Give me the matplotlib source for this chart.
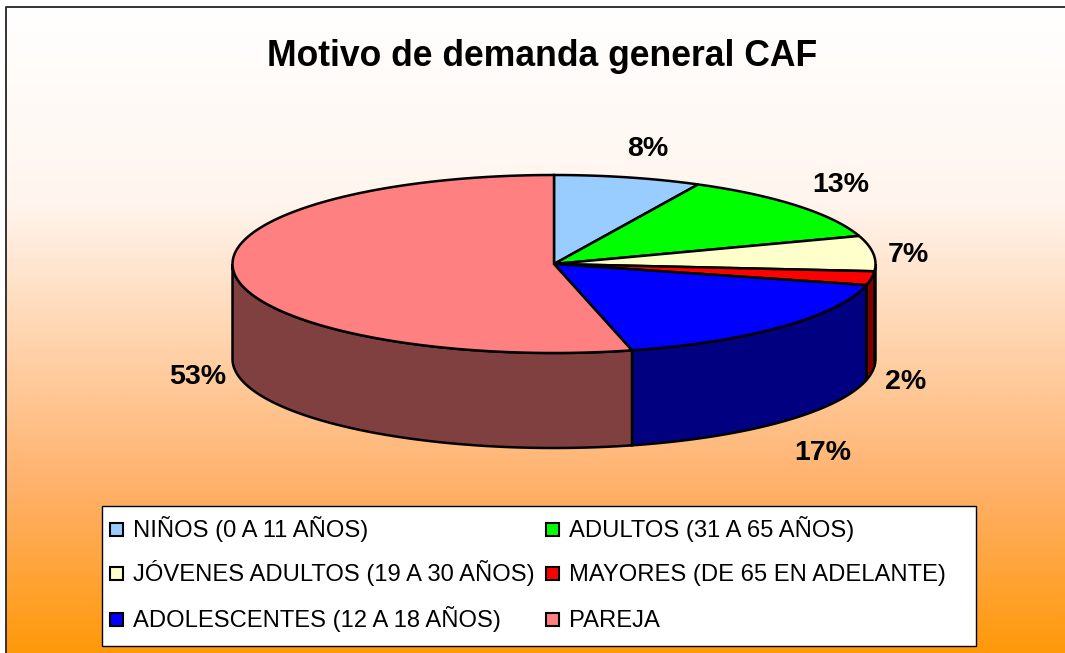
import numpy as np
import matplotlib
matplotlib.use("Agg")
import matplotlib.pyplot as plt
from matplotlib.colors import LinearSegmentedColormap
from matplotlib.patches import Polygon, Rectangle

# data
categories = ["NIÑOS (0 A 11 AÑOS)", "ADULTOS (31 A 65 AÑOS)", "JÓVENES ADULTOS (19 A 30 AÑOS)",
              "MAYORES (DE 65 EN ADELANTE)", "ADOLESCENTES (12 A 18 AÑOS)", "PAREJA"]
values = [7.4, 12.5, 6.4, 2.5, 17.3, 53.9]
value_labels = ["8%", "13%", "7%", "2%", "17%", "53%"]
top_colors = ["#99CCFF", "#00FF00", "#FFFFCC", "#FF0000", "#0000FF", "#FF8080"]
side_colors = ["#4D6680", "#008000", "#808066", "#800000", "#000080", "#804040"]
label_pos = [(648, 147), (841, 183), (908, 253), (906, 380), (823, 451), (198, 375)]

# pie geometry in pixels
cx, cy, rx, ry, depth = 554, 264, 321.5, 89, 95

plt.rcParams['font.family'] = ['Liberation Sans', 'DejaVu Sans']

fig = plt.figure(figsize=(10.65, 6.53), dpi=100)
ax = fig.add_axes([0, 0, 1, 1])
ax.set_xlim(0, 1065)
ax.set_ylim(653, 0)
ax.axis('off')

# background gradient
cmap = LinearSegmentedColormap.from_list("bg", [(0, "#FFFFFF"), (0.3, "#FFF5EE"), (0.75, "#FFB069"), (1, "#FF990A")])
grad = np.linspace(0, 1, 400).reshape(-1, 1)
ax.imshow(grad, cmap=cmap, extent=[6, 1066, 653, 7], aspect='auto', zorder=0)
ax.set_xlim(0, 1065)
ax.set_ylim(653, 0)
ax.plot([6, 6, 1065], [653, 7, 7], color="#333333", lw=1.4, zorder=1)


def rim(t1, t2, dy=0):
    t = np.radians(np.linspace(t1, t2, max(int(abs(t2 - t1)) * 2, 2)))
    return np.column_stack([cx + rx * np.sin(t), cy + dy - ry * np.cos(t)])


edges = 360 * np.cumsum([0] + values) / sum(values)

# side walls first, only the front half of the pie shows one
for i in range(len(values)):
    a, b = max(edges[i], 90), min(edges[i + 1], 270)
    if b > a:
        pts = np.vstack([rim(a, b), rim(a, b, depth)[::-1]])
        ax.add_patch(Polygon(pts, closed=True, fc=side_colors[i], ec="black", lw=1.8, zorder=2))

# top of the pie
for i in range(len(values)):
    pts = np.vstack([[cx, cy], rim(edges[i], edges[i + 1])])
    ax.add_patch(Polygon(pts, closed=True, fc=top_colors[i], ec="black", lw=1.8, zorder=3))

for lab, (x, y) in zip(value_labels, label_pos):
    ax.text(x, y + 2, lab, fontsize=20.5, fontweight='bold', ha='center', va='center', color='black', zorder=5)

ax.text(542, 56, "Motivo de demanda general CAF", fontsize=25.6, fontweight='bold',
        ha='center', va='center', color='black', zorder=5)

# legend box
ax.add_patch(Rectangle((102, 506), 874, 140, fc='white', ec='black', lw=1, zorder=4))
legend_x = [110, 546]
legend_y = [529, 573, 619]
for i, name in enumerate(categories):
    x = legend_x[i % 2]
    y = legend_y[i // 2]
    ax.add_patch(Rectangle((x, y - 6), 13, 13, fc=top_colors[i], ec='black', lw=1.5, zorder=5))
    ax.text(x + 23, y + 8, name, fontsize=17.1, ha='left', va='baseline', color='black', zorder=5)

fig.savefig("out.png", dpi=100)
